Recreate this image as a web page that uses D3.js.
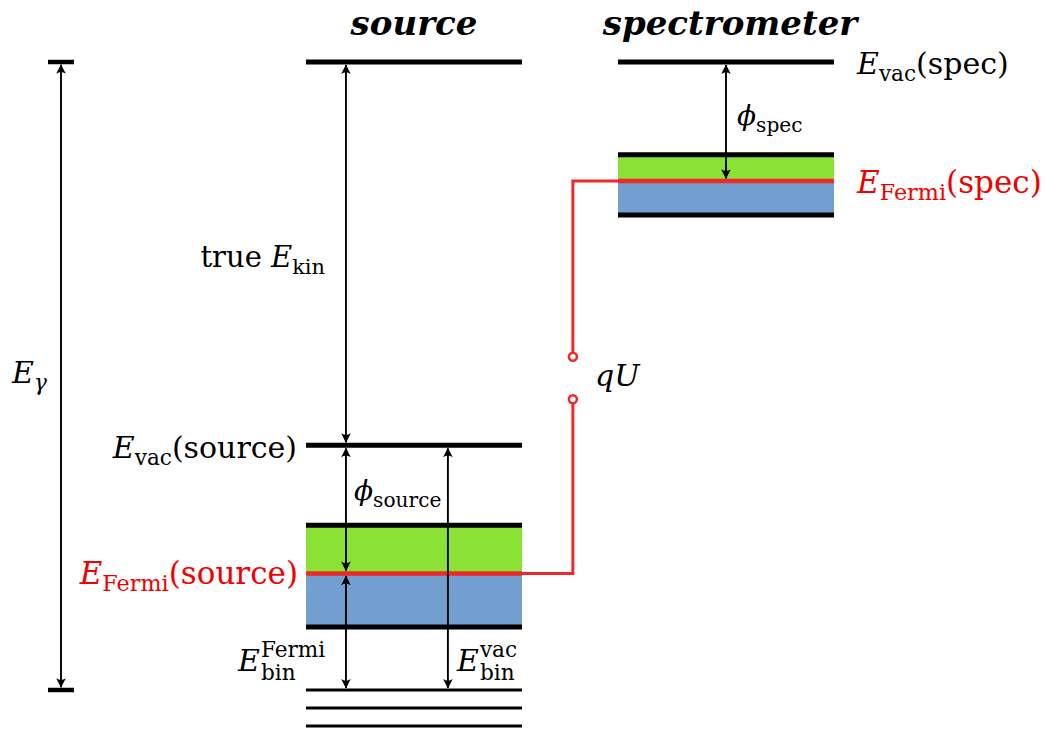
<!DOCTYPE html>
<html>
<head>
<meta charset="utf-8">
<script src="https://cdn.jsdelivr.net/npm/d3@7"></script>
<style>
  html, body { margin: 0; padding: 0; background: #fff; }
  svg { display: block; }
</style>
</head>
<body>
<script>
// Energy level diagram: photoelectron source vs. spectrometer
// energies in arbitrary units, lowest core level of the source = 0

const columns = ["source", "spectrometer"];

// source: photon reference level, vacuum level
const sourceLevels = [17.45, 6.8];
// source band: top edge, Fermi level, bottom edge
const sourceBand = [4.58, 3.24, 1.75];
// source core levels
const sourceCore = [0, -0.5, -1.0];

// spectrometer: vacuum level
const specLevels = [17.45];
// spectrometer band: top edge, Fermi level, bottom edge
const specBand = [14.87, 14.14, 13.2];

// the two open contacts of the voltage qU
const qUGap = [9.26, 8.08];

// photon energy span (E_gamma)
const gammaSpan = [17.45, 0];

const W = 1046, H = 729;
const FONT = "DejaVu Serif";
const RED_LINE = "#ef2929";
const RED_TEXT = "#f20000";

const svg = d3.select("body").append("svg")
    .attr("width", W)
    .attr("height", H);

// scales
const y = d3.scaleLinear().domain([0, 17.45]).range([690, 62]);
const x = d3.scaleBand().domain(columns).range([306, 834]).paddingInner(0.3077);
const bw = x.bandwidth();
const xIn = (col, f) => x(col) + f * bw;

// arrow head marker (filled, concave back)
svg.append("defs").append("marker")
    .attr("id", "tip")
    .attr("viewBox", "-11 -6 13 12")
    .attr("refX", 0)
    .attr("refY", 0)
    .attr("markerWidth", 13)
    .attr("markerHeight", 12)
    .attr("markerUnits", "userSpaceOnUse")
    .attr("orient", "auto-start-reverse")
    .append("path")
    .attr("d", "M0.6,0 L-9,-4.8 Q-5.5,0 -9,4.8 Z")
    .attr("fill", "#000")
    .attr("stroke", "none");

// band colours
function drawBand(col, band) {
    const x0 = x(col);
    svg.append("rect")
        .attr("x", x0).attr("width", bw)
        .attr("y", y(band[0])).attr("height", y(band[1]) - y(band[0]))
        .attr("fill", "#8ae234");
    svg.append("rect")
        .attr("x", x0).attr("width", bw)
        .attr("y", y(band[1])).attr("height", y(band[2]) - y(band[1]))
        .attr("fill", "#729fcf");
}
drawBand("source", sourceBand);
drawBand("spectrometer", specBand);

// red wire between the two Fermi levels, broken at qU
const wireX = x("source") + bw + 0.53 * (x("spectrometer") - x("source") - bw);
const cr = 4;
svg.append("path")
    .attr("d", d3.line()([
        [x("spectrometer"), y(specBand[1])],
        [wireX, y(specBand[1])],
        [wireX, y(qUGap[0]) - cr]
    ]))
    .attr("fill", "none").attr("stroke", RED_LINE).attr("stroke-width", 3);
svg.append("path")
    .attr("d", d3.line()([
        [wireX, y(qUGap[1]) + cr],
        [wireX, y(sourceBand[1])],
        [x("source") + bw, y(sourceBand[1])]
    ]))
    .attr("fill", "none").attr("stroke", RED_LINE).attr("stroke-width", 3);
svg.selectAll("circle.contact")
    .data(qUGap)
    .enter().append("circle")
    .attr("class", "contact")
    .attr("cx", wireX)
    .attr("cy", d => y(d))
    .attr("r", cr)
    .attr("fill", "#fff")
    .attr("stroke", RED_LINE)
    .attr("stroke-width", 2.5);

// black level lines
function hline(col, e, sw, color) {
    svg.append("line")
        .attr("x1", x(col)).attr("x2", x(col) + bw)
        .attr("y1", y(e)).attr("y2", y(e))
        .attr("stroke", color || "#000")
        .attr("stroke-width", sw);
}
sourceLevels.forEach(e => hline("source", e, 5));
hline("source", sourceBand[0], 5);
hline("source", sourceBand[2], 5);
sourceCore.forEach(e => hline("source", e, 3));
specLevels.forEach(e => hline("spectrometer", e, 5));
hline("spectrometer", specBand[0], 5);
hline("spectrometer", specBand[2], 5);
// Fermi levels
hline("source", sourceBand[1], 4.5, RED_LINE);
hline("spectrometer", specBand[1], 4.5, RED_LINE);

// E_gamma span with end caps
const gx = x("source") - 245;
gammaSpan.forEach(e => {
    svg.append("line")
        .attr("x1", gx - 13).attr("x2", gx + 13)
        .attr("y1", y(e)).attr("y2", y(e))
        .attr("stroke", "#000").attr("stroke-width", 4.5);
});

// double arrows; inset keeps the tip at the edge of the level line
function arrow(xp, eTop, eBot, insetTop, insetBot) {
    svg.append("line")
        .attr("x1", xp).attr("x2", xp)
        .attr("y1", y(eTop) + insetTop)
        .attr("y2", y(eBot) - insetBot)
        .attr("stroke", "#000")
        .attr("stroke-width", 1.9)
        .attr("marker-start", "url(#tip)")
        .attr("marker-end", "url(#tip)");
}
const ax1 = xIn("source", 0.185);
const ax2 = xIn("source", 0.657);
const ax3 = xIn("spectrometer", 0.5);
arrow(ax1, sourceLevels[0], sourceLevels[1], 3, 3);          // true E_kin
arrow(ax1, sourceLevels[1], sourceBand[1], 3, 2.8);          // phi_source
arrow(ax1, sourceBand[1], sourceCore[0], 2.8, 2);            // E_bin^Fermi
arrow(ax2, sourceLevels[1], sourceCore[0], 3, 2);            // E_bin^vac
arrow(ax3, specLevels[0], specBand[1], 3, 2.8);              // phi_spec
arrow(gx, gammaSpan[0], gammaSpan[1], 2.8, 2.8);             // E_gamma

// text with italic / roman / subscript parts
function mathLabel(x0, y0, parts, anchor, color, size) {
    const t = svg.append("text")
        .attr("x", x0).attr("y", y0)
        .attr("text-anchor", anchor)
        .attr("fill", color)
        .style("font-family", FONT)
        .style("font-size", size + "px");
    let shift = 0;
    parts.forEach(p => {
        const s = t.append("tspan").text(p.t);
        const target = p.sub ? size * 0.24 : 0;
        if (target !== shift) { s.attr("dy", target - shift); shift = target; }
        s.style("font-style", p.i ? "italic" : "normal");
        if (p.sub) s.style("font-size", (size * 0.72) + "px");
    });
    return t;
}

// titles
svg.selectAll("text.title")
    .data(columns)
    .enter().append("text")
    .attr("class", "title")
    .attr("x", d => x(d) + bw / 2 + (d === "spectrometer" ? 4 : 0))
    .attr("y", 35)
    .attr("text-anchor", "middle")
    .style("font-family", FONT)
    .style("font-size", "34px")
    .style("font-weight", "bold")
    .style("font-style", "italic")
    .text(d => d);

const S = 30;
const specRight = x("spectrometer") + bw + 23;
mathLabel(specRight, 74, [{t: "E", i: 1}, {t: "vac", sub: 1}, {t: "(spec)"}], "start", "#000", S);
mathLabel(specRight, 193, [{t: "E", i: 1}, {t: "Fermi", sub: 1}, {t: "(spec)"}], "start", RED_TEXT, 31);
mathLabel(297, 458, [{t: "E", i: 1}, {t: "vac", sub: 1}, {t: "(source)"}], "end", "#000", S);
mathLabel(298, 584, [{t: "E", i: 1}, {t: "Fermi", sub: 1}, {t: "(source)"}], "end", RED_TEXT, 31);
mathLabel(325, 267, [{t: "true\u00a0"}, {t: "E", i: 1}, {t: "kin", sub: 1}], "end", "#000", 29);
mathLabel(354, 500, [{t: "\u03d5", i: 1}, {t: "source", sub: 1}], "start", "#000", 28);
mathLabel(737, 125, [{t: "\u03d5", i: 1}, {t: "spec", sub: 1}], "start", "#000", 28);
mathLabel(12, 383, [{t: "E", i: 1}, {t: "\u03b3", i: 1, sub: 1}], "start", "#000", S);
mathLabel(595, 386, [{t: "qU", i: 1}], "start", "#000", S);

// E_bin with stacked super- and subscript
function binLabel(x0, y0, sup) {
    const e = svg.append("text")
        .attr("x", x0).attr("y", y0)
        .style("font-family", FONT)
        .style("font-size", S + "px")
        .style("font-style", "italic")
        .text("E");
    const xs = x0 + e.node().getComputedTextLength() + 1;
    svg.append("text")
        .attr("x", xs).attr("y", y0 - 14)
        .style("font-family", FONT)
        .style("font-size", (S * 0.72) + "px")
        .text(sup);
    svg.append("text")
        .attr("x", xs).attr("y", y0 + 9)
        .style("font-family", FONT)
        .style("font-size", (S * 0.72) + "px")
        .text("bin");
}
binLabel(238, 671, "Fermi");
binLabel(457, 671, "vac");
</script>
</body>
</html>
